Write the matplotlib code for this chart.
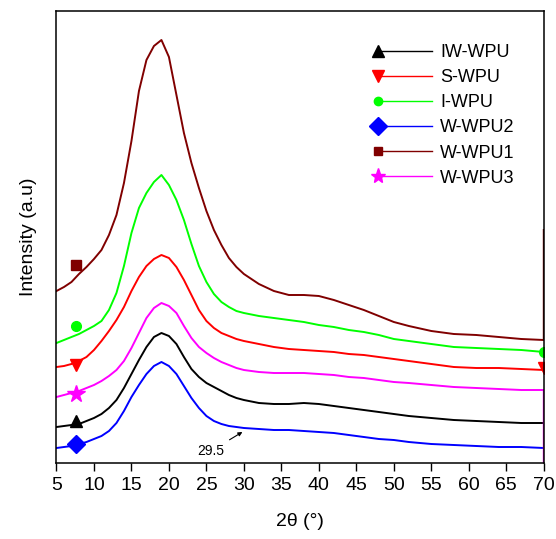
import matplotlib
matplotlib.use('Agg')
import matplotlib.pyplot as plt
from matplotlib.lines import Line2D
from matplotlib.legend_handler import HandlerBase

plt.rcParams['font.family'] = ['Liberation Sans', 'DejaVu Sans']

# 2theta positions (deg); 70 is repeated for the spikes at the end of the scans
two_theta = [5, 6, 7, 8, 9, 10, 11, 12, 13, 14, 15, 16, 17, 18, 19, 20, 21, 22, 23, 24, 25,
             26, 27, 28, 29, 30, 32, 34, 36, 38, 40, 42, 44, 46, 48, 50,
             52, 55, 58, 61, 64, 67, 70, 70]

# stacked intensities (a.u.)
iw_wpu = [36, 37, 38, 39, 42, 45, 49, 55, 63, 75, 89, 103, 116, 126, 130, 127, 119, 106, 94, 86, 80,
          76, 72, 68, 65, 63, 60, 59, 59, 60, 59, 57, 55, 53, 51, 49,
          47, 45, 43, 42, 41, 40, 40, 40]
s_wpu = [96, 97, 99, 102, 106, 113, 122, 132, 143, 156, 172, 186, 197, 204, 208, 205, 196, 183, 168, 153, 142,
         135, 130, 127, 124, 122, 119, 116, 114, 113, 112, 111, 109, 108, 106, 104,
         102, 99, 96, 95, 95, 94, 93, 93]
i_wpu = [120, 123, 126, 129, 133, 137, 142, 153, 170, 197, 230, 255, 270, 281, 288, 278, 263, 243, 219, 197, 181,
         169, 161, 156, 152, 150, 147, 145, 143, 141, 138, 136, 133, 131, 128, 124,
         122, 119, 116, 115, 114, 113, 111, 111]
w_wpu2 = [15, 16, 17, 19, 21, 24, 27, 32, 40, 52, 66, 78, 89, 97, 101, 97, 89, 77, 65, 55, 47,
          42, 39, 37, 36, 35, 34, 33, 33, 32, 31, 30, 28, 26, 24, 23,
          21, 19, 18, 17, 16, 16, 15, 15]
w_wpu1 = [172, 176, 181, 189, 196, 204, 213, 228, 248, 280, 322, 372, 403, 417, 423, 406, 368, 330, 300, 275, 252,
          233, 218, 205, 196, 189, 179, 172, 168, 168, 167, 163, 158, 153, 147, 141,
          137, 132, 129, 128, 126, 124, 123, 233]
w_wpu3 = [66, 68, 70, 72, 75, 78, 82, 87, 93, 102, 115, 130, 145, 155, 160, 157, 150, 137, 125, 116, 110,
          105, 101, 98, 95, 93, 91, 90, 90, 90, 89, 88, 86, 85, 83, 81,
          80, 78, 76, 75, 74, 73, 73, 0]

labels = ['IW-WPU', 'S-WPU', 'I-WPU', 'W-WPU2', 'W-WPU1', 'W-WPU3']
series = [iw_wpu, s_wpu, i_wpu, w_wpu2, w_wpu1, w_wpu3]
colors = ['#000000', '#ff0000', '#00ff00', '#0000ff', '#800000', '#ff00ff']
markers = ['^', 'v', 'o', 'D', 's', '*']
curve_ms = [9, 9, 7, 9, 7, 13]
legend_ms = [9, 9, 6, 9, 6, 11]
# symbol heights beside the start of each curve
marker_x = 7.6
marker_y = [42, 98, 137, 19, 198, 69]


class MarkerAtStart(HandlerBase):
    def create_artists(self, legend, orig_handle, xdescent, ydescent,
                       width, height, fontsize, trans):
        y = height / 2 - ydescent
        ln = Line2D([-xdescent, width - xdescent], [y, y],
                    color=orig_handle.get_color(), lw=1)
        mk = Line2D([-xdescent], [y], marker=orig_handle.get_marker(),
                    ms=orig_handle.get_markersize(), color=orig_handle.get_color(),
                    ls='none')
        ln.set_transform(trans)
        mk.set_transform(trans)
        return [ln, mk]


fig = plt.figure(figsize=(5.56, 5.39), dpi=100)
ax = fig.add_axes([0.1016, 0.141, 0.8764, 0.8386])

for vals, c, m, ms, my in zip(series, colors, markers, curve_ms, marker_y):
    ax.plot(two_theta, vals, color=c, lw=1.4)
    ax.plot([marker_x], [my], marker=m, ms=ms, color=c, ls='none')

# half-clipped symbols at the right edge
ax.plot([70], [111], marker='o', ms=7, color=colors[2], ls='none')
ax.plot([70], [95], marker='v', ms=9, color=colors[1], ls='none')

ax.annotate('29.5', xy=(29.8, 31), xytext=(25.6, 12), fontsize=10,
            ha='center', va='center',
            arrowprops=dict(arrowstyle='-|>', color='black', lw=0.8,
                            mutation_scale=6, shrinkA=2, shrinkB=0))

ax.set_xlim(5, 70)
ax.set_ylim(0, 452)
ax.set_xticks(range(5, 71, 5))
ax.set_yticks([])
ax.tick_params(axis='x', direction='out', length=6, width=1, labelsize=14, pad=4)
for s in ax.spines.values():
    s.set_linewidth(1.1)
ax.set_xlabel('2θ (°)', fontsize=14, labelpad=14)
ax.set_ylabel('Intensity (a.u)', fontsize=14, labelpad=14)

handles = [Line2D([], [], color=c, marker=m, ms=ms) for c, m, ms in zip(colors, markers, legend_ms)]
ax.legend(handles, labels, handler_map={Line2D: MarkerAtStart()},
          loc='upper left', bbox_to_anchor=(378 / 556, 1 - 44 / 539),
          bbox_transform=fig.transFigure, frameon=False, fontsize=13,
          handlelength=3.0, handletextpad=0.45, labelspacing=0.45,
          borderpad=0, borderaxespad=0)

fig.savefig('out.png', dpi=100)
